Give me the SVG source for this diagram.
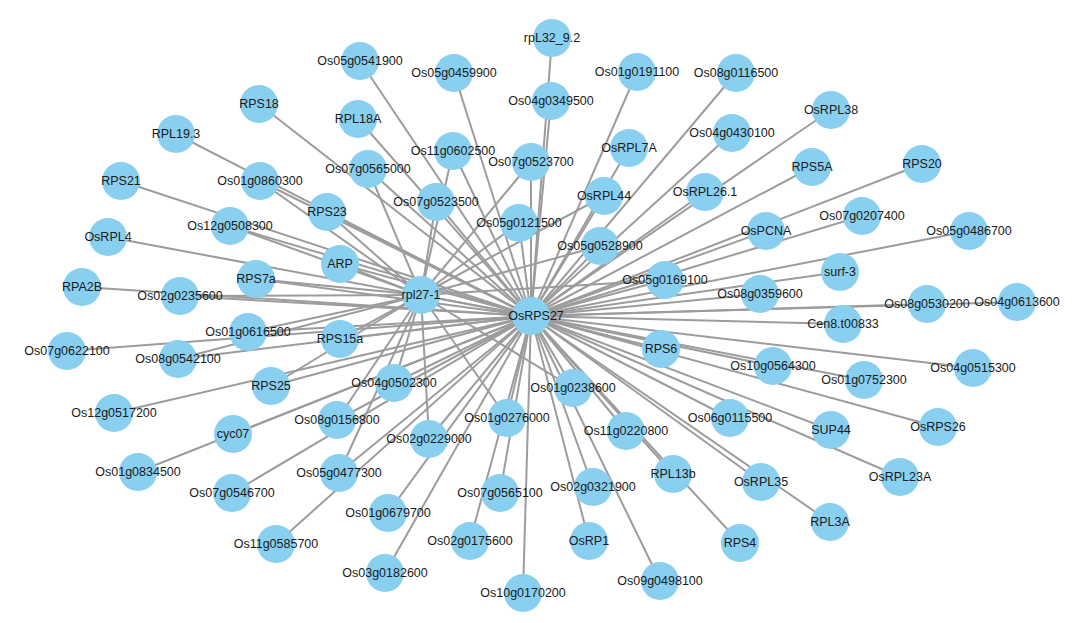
<svg xmlns="http://www.w3.org/2000/svg" width="1080" height="623" viewBox="0 0 1080 623">
<style>
.e line{stroke:#9c9c9c;stroke-width:2}
.n circle{fill:#89CFF0}
.n text{font-family:"Liberation Sans",Arial,sans-serif;font-size:12.5px;fill:#1a1a1a;text-anchor:middle}
</style>
<rect width="1080" height="623" fill="#fff"/>
<g id="connectors" class="e">
<line x1="531" y1="316" x2="421" y2="295"/>
<line x1="531" y1="316" x2="552" y2="38"/>
<line x1="531" y1="316" x2="360" y2="61"/>
<line x1="531" y1="316" x2="454" y2="73"/>
<line x1="531" y1="316" x2="637" y2="72"/>
<line x1="531" y1="316" x2="736" y2="73"/>
<line x1="531" y1="316" x2="551" y2="101"/>
<line x1="531" y1="316" x2="259" y2="104"/>
<line x1="531" y1="316" x2="831" y2="110"/>
<line x1="531" y1="316" x2="358" y2="119"/>
<line x1="531" y1="316" x2="176" y2="134"/>
<line x1="531" y1="316" x2="732" y2="133"/>
<line x1="531" y1="316" x2="629" y2="148"/>
<line x1="531" y1="316" x2="453" y2="151"/>
<line x1="531" y1="316" x2="531" y2="162"/>
<line x1="531" y1="316" x2="922" y2="164"/>
<line x1="531" y1="316" x2="812" y2="167"/>
<line x1="531" y1="316" x2="368" y2="169"/>
<line x1="531" y1="316" x2="121" y2="181"/>
<line x1="531" y1="316" x2="260" y2="181"/>
<line x1="531" y1="316" x2="705" y2="192"/>
<line x1="531" y1="316" x2="604" y2="196"/>
<line x1="531" y1="316" x2="436" y2="202"/>
<line x1="531" y1="316" x2="327" y2="212"/>
<line x1="531" y1="316" x2="862" y2="216"/>
<line x1="531" y1="316" x2="519" y2="223"/>
<line x1="531" y1="316" x2="230" y2="226"/>
<line x1="531" y1="316" x2="766" y2="231"/>
<line x1="531" y1="316" x2="969" y2="231"/>
<line x1="531" y1="316" x2="108" y2="237"/>
<line x1="531" y1="316" x2="600" y2="246"/>
<line x1="531" y1="316" x2="340" y2="264"/>
<line x1="531" y1="316" x2="840" y2="272"/>
<line x1="531" y1="316" x2="256" y2="279"/>
<line x1="531" y1="316" x2="665" y2="280"/>
<line x1="531" y1="316" x2="82" y2="287"/>
<line x1="531" y1="316" x2="760" y2="294"/>
<line x1="531" y1="316" x2="180" y2="296"/>
<line x1="531" y1="316" x2="1017" y2="302"/>
<line x1="531" y1="316" x2="927" y2="304"/>
<line x1="531" y1="316" x2="843" y2="324"/>
<line x1="531" y1="316" x2="248" y2="332"/>
<line x1="531" y1="316" x2="340" y2="339"/>
<line x1="531" y1="316" x2="661" y2="349"/>
<line x1="531" y1="316" x2="67" y2="351"/>
<line x1="531" y1="316" x2="178" y2="359"/>
<line x1="531" y1="316" x2="773" y2="366"/>
<line x1="531" y1="316" x2="973" y2="368"/>
<line x1="531" y1="316" x2="864" y2="380"/>
<line x1="531" y1="316" x2="394" y2="383"/>
<line x1="531" y1="316" x2="271" y2="386"/>
<line x1="531" y1="316" x2="573" y2="388"/>
<line x1="531" y1="316" x2="114" y2="413"/>
<line x1="531" y1="316" x2="507" y2="418"/>
<line x1="531" y1="316" x2="730" y2="418"/>
<line x1="531" y1="316" x2="337" y2="420"/>
<line x1="531" y1="316" x2="938" y2="427"/>
<line x1="531" y1="316" x2="831" y2="430"/>
<line x1="531" y1="316" x2="626" y2="431"/>
<line x1="531" y1="316" x2="233" y2="434"/>
<line x1="531" y1="316" x2="429" y2="439"/>
<line x1="531" y1="316" x2="138" y2="472"/>
<line x1="531" y1="316" x2="339" y2="473"/>
<line x1="531" y1="316" x2="673" y2="474"/>
<line x1="531" y1="316" x2="900" y2="477"/>
<line x1="531" y1="316" x2="761" y2="482"/>
<line x1="531" y1="316" x2="593" y2="487"/>
<line x1="531" y1="316" x2="232" y2="493"/>
<line x1="531" y1="316" x2="500" y2="493"/>
<line x1="531" y1="316" x2="388" y2="513"/>
<line x1="531" y1="316" x2="830" y2="522"/>
<line x1="531" y1="316" x2="470" y2="541"/>
<line x1="531" y1="316" x2="589" y2="541"/>
<line x1="531" y1="316" x2="740" y2="543"/>
<line x1="531" y1="316" x2="276" y2="544"/>
<line x1="531" y1="316" x2="385" y2="573"/>
<line x1="531" y1="316" x2="660" y2="581"/>
<line x1="531" y1="316" x2="523" y2="593"/>
<line x1="421" y1="295" x2="260" y2="181"/>
<line x1="421" y1="295" x2="327" y2="212"/>
<line x1="421" y1="295" x2="230" y2="226"/>
<line x1="421" y1="295" x2="340" y2="264"/>
<line x1="421" y1="295" x2="256" y2="279"/>
<line x1="421" y1="295" x2="180" y2="296"/>
<line x1="421" y1="295" x2="248" y2="332"/>
<line x1="421" y1="295" x2="178" y2="359"/>
<line x1="421" y1="295" x2="340" y2="339"/>
<line x1="421" y1="295" x2="271" y2="386"/>
<line x1="421" y1="295" x2="394" y2="383"/>
<line x1="421" y1="295" x2="337" y2="420"/>
<line x1="421" y1="295" x2="339" y2="473"/>
<line x1="421" y1="295" x2="429" y2="439"/>
<line x1="421" y1="295" x2="507" y2="418"/>
<line x1="421" y1="295" x2="573" y2="388"/>
<line x1="421" y1="295" x2="436" y2="202"/>
<line x1="421" y1="295" x2="453" y2="151"/>
<line x1="421" y1="295" x2="368" y2="169"/>
<line x1="421" y1="295" x2="531" y2="162"/>
<line x1="421" y1="295" x2="519" y2="223"/>
<line x1="421" y1="295" x2="604" y2="196"/>
<line x1="421" y1="295" x2="600" y2="246"/>
<line x1="421" y1="295" x2="665" y2="280"/>
</g>
<g id="n-rpL32_9.2" class="n"><circle cx="552" cy="38" r="19"/><text x="552" y="42">rpL32_9.2</text></g>
<g id="n-Os05g0541900" class="n"><circle cx="360" cy="61" r="19"/><text x="360" y="65">Os05g0541900</text></g>
<g id="n-Os05g0459900" class="n"><circle cx="454" cy="73" r="19"/><text x="454" y="77">Os05g0459900</text></g>
<g id="n-Os01g0191100" class="n"><circle cx="637" cy="72" r="19"/><text x="637" y="76">Os01g0191100</text></g>
<g id="n-Os08g0116500" class="n"><circle cx="736" cy="73" r="19"/><text x="736" y="77">Os08g0116500</text></g>
<g id="n-Os04g0349500" class="n"><circle cx="551" cy="101" r="19"/><text x="551" y="105">Os04g0349500</text></g>
<g id="n-RPS18" class="n"><circle cx="259" cy="104" r="19"/><text x="259" y="108">RPS18</text></g>
<g id="n-OsRPL38" class="n"><circle cx="831" cy="110" r="19"/><text x="831" y="114">OsRPL38</text></g>
<g id="n-RPL18A" class="n"><circle cx="358" cy="119" r="19"/><text x="358" y="123">RPL18A</text></g>
<g id="n-RPL19.3" class="n"><circle cx="176" cy="134" r="19"/><text x="176" y="138">RPL19.3</text></g>
<g id="n-Os04g0430100" class="n"><circle cx="732" cy="133" r="19"/><text x="732" y="137">Os04g0430100</text></g>
<g id="n-OsRPL7A" class="n"><circle cx="629" cy="148" r="19"/><text x="629" y="152">OsRPL7A</text></g>
<g id="n-Os11g0602500" class="n"><circle cx="453" cy="151" r="19"/><text x="453" y="155">Os11g0602500</text></g>
<g id="n-Os07g0523700" class="n"><circle cx="531" cy="162" r="19"/><text x="531" y="166">Os07g0523700</text></g>
<g id="n-RPS20" class="n"><circle cx="922" cy="164" r="19"/><text x="922" y="168">RPS20</text></g>
<g id="n-RPS5A" class="n"><circle cx="812" cy="167" r="19"/><text x="812" y="171">RPS5A</text></g>
<g id="n-Os07g0565000" class="n"><circle cx="368" cy="169" r="19"/><text x="368" y="173">Os07g0565000</text></g>
<g id="n-RPS21" class="n"><circle cx="121" cy="181" r="19"/><text x="121" y="185">RPS21</text></g>
<g id="n-Os01g0860300" class="n"><circle cx="260" cy="181" r="19"/><text x="260" y="185">Os01g0860300</text></g>
<g id="n-OsRPL26.1" class="n"><circle cx="705" cy="192" r="19"/><text x="705" y="196">OsRPL26.1</text></g>
<g id="n-OsRPL44" class="n"><circle cx="604" cy="196" r="19"/><text x="604" y="200">OsRPL44</text></g>
<g id="n-Os07g0523500" class="n"><circle cx="436" cy="202" r="19"/><text x="436" y="206">Os07g0523500</text></g>
<g id="n-RPS23" class="n"><circle cx="327" cy="212" r="19"/><text x="327" y="216">RPS23</text></g>
<g id="n-Os07g0207400" class="n"><circle cx="862" cy="216" r="19"/><text x="862" y="220">Os07g0207400</text></g>
<g id="n-Os05g0121500" class="n"><circle cx="519" cy="223" r="19"/><text x="519" y="227">Os05g0121500</text></g>
<g id="n-Os12g0508300" class="n"><circle cx="230" cy="226" r="19"/><text x="230" y="230">Os12g0508300</text></g>
<g id="n-OsPCNA" class="n"><circle cx="766" cy="231" r="19"/><text x="766" y="235">OsPCNA</text></g>
<g id="n-Os05g0486700" class="n"><circle cx="969" cy="231" r="19"/><text x="969" y="235">Os05g0486700</text></g>
<g id="n-OsRPL4" class="n"><circle cx="108" cy="237" r="19"/><text x="108" y="241">OsRPL4</text></g>
<g id="n-Os05g0528900" class="n"><circle cx="600" cy="246" r="19"/><text x="600" y="250">Os05g0528900</text></g>
<g id="n-ARP" class="n"><circle cx="340" cy="264" r="19"/><text x="340" y="268">ARP</text></g>
<g id="n-surf-3" class="n"><circle cx="840" cy="272" r="19"/><text x="840" y="276">surf-3</text></g>
<g id="n-RPS7a" class="n"><circle cx="256" cy="279" r="19"/><text x="256" y="283">RPS7a</text></g>
<g id="n-Os05g0169100" class="n"><circle cx="665" cy="280" r="19"/><text x="665" y="284">Os05g0169100</text></g>
<g id="n-RPA2B" class="n"><circle cx="82" cy="287" r="19"/><text x="82" y="291">RPA2B</text></g>
<g id="n-Os08g0359600" class="n"><circle cx="760" cy="294" r="19"/><text x="760" y="298">Os08g0359600</text></g>
<g id="n-Os02g0235600" class="n"><circle cx="180" cy="296" r="19"/><text x="180" y="300">Os02g0235600</text></g>
<g id="n-Os08g0530200" class="n"><circle cx="927" cy="304" r="19"/><text x="927" y="308">Os08g0530200</text></g>
<g id="n-Os04g0613600" class="n"><circle cx="1017" cy="302" r="19"/><text x="1017" y="306">Os04g0613600</text></g>
<g id="n-Cen8.t00833" class="n"><circle cx="843" cy="324" r="19"/><text x="843" y="328">Cen8.t00833</text></g>
<g id="n-rpl27-1" class="n"><circle cx="421" cy="295" r="19"/><text x="421" y="299">rpl27-1</text></g>
<g id="n-OsRPS27" class="n"><circle cx="531" cy="316" r="19"/><text x="536" y="320">OsRPS27</text></g>
<g id="n-Os01g0616500" class="n"><circle cx="248" cy="332" r="19"/><text x="248" y="336">Os01g0616500</text></g>
<g id="n-RPS15a" class="n"><circle cx="340" cy="339" r="19"/><text x="340" y="343">RPS15a</text></g>
<g id="n-RPS6" class="n"><circle cx="661" cy="349" r="19"/><text x="661" y="353">RPS6</text></g>
<g id="n-Os07g0622100" class="n"><circle cx="67" cy="351" r="19"/><text x="67" y="355">Os07g0622100</text></g>
<g id="n-Os08g0542100" class="n"><circle cx="178" cy="359" r="19"/><text x="178" y="363">Os08g0542100</text></g>
<g id="n-Os10g0564300" class="n"><circle cx="773" cy="366" r="19"/><text x="773" y="370">Os10g0564300</text></g>
<g id="n-Os04g0515300" class="n"><circle cx="973" cy="368" r="19"/><text x="973" y="372">Os04g0515300</text></g>
<g id="n-Os01g0752300" class="n"><circle cx="864" cy="380" r="19"/><text x="864" y="384">Os01g0752300</text></g>
<g id="n-Os04g0502300" class="n"><circle cx="394" cy="383" r="19"/><text x="394" y="387">Os04g0502300</text></g>
<g id="n-RPS25" class="n"><circle cx="271" cy="386" r="19"/><text x="271" y="390">RPS25</text></g>
<g id="n-Os01g0238600" class="n"><circle cx="573" cy="388" r="19"/><text x="573" y="392">Os01g0238600</text></g>
<g id="n-Os12g0517200" class="n"><circle cx="114" cy="413" r="19"/><text x="114" y="417">Os12g0517200</text></g>
<g id="n-Os01g0276000" class="n"><circle cx="507" cy="418" r="19"/><text x="507" y="422">Os01g0276000</text></g>
<g id="n-Os06g0115500" class="n"><circle cx="730" cy="418" r="19"/><text x="730" y="422">Os06g0115500</text></g>
<g id="n-Os08g0156800" class="n"><circle cx="337" cy="420" r="19"/><text x="337" y="424">Os08g0156800</text></g>
<g id="n-OsRPS26" class="n"><circle cx="938" cy="427" r="19"/><text x="938" y="431">OsRPS26</text></g>
<g id="n-SUP44" class="n"><circle cx="831" cy="430" r="19"/><text x="831" y="434">SUP44</text></g>
<g id="n-Os11g0220800" class="n"><circle cx="626" cy="431" r="19"/><text x="626" y="435">Os11g0220800</text></g>
<g id="n-cyc07" class="n"><circle cx="233" cy="434" r="19"/><text x="233" y="438">cyc07</text></g>
<g id="n-Os02g0229000" class="n"><circle cx="429" cy="439" r="19"/><text x="429" y="443">Os02g0229000</text></g>
<g id="n-Os01g0834500" class="n"><circle cx="138" cy="472" r="19"/><text x="138" y="476">Os01g0834500</text></g>
<g id="n-Os05g0477300" class="n"><circle cx="339" cy="473" r="19"/><text x="339" y="477">Os05g0477300</text></g>
<g id="n-RPL13b" class="n"><circle cx="673" cy="474" r="19"/><text x="673" y="478">RPL13b</text></g>
<g id="n-OsRPL23A" class="n"><circle cx="900" cy="477" r="19"/><text x="900" y="481">OsRPL23A</text></g>
<g id="n-OsRPL35" class="n"><circle cx="761" cy="482" r="19"/><text x="761" y="486">OsRPL35</text></g>
<g id="n-Os02g0321900" class="n"><circle cx="593" cy="487" r="19"/><text x="593" y="491">Os02g0321900</text></g>
<g id="n-Os07g0546700" class="n"><circle cx="232" cy="493" r="19"/><text x="232" y="497">Os07g0546700</text></g>
<g id="n-Os07g0565100" class="n"><circle cx="500" cy="493" r="19"/><text x="500" y="497">Os07g0565100</text></g>
<g id="n-Os01g0679700" class="n"><circle cx="388" cy="513" r="19"/><text x="388" y="517">Os01g0679700</text></g>
<g id="n-RPL3A" class="n"><circle cx="830" cy="522" r="19"/><text x="830" y="526">RPL3A</text></g>
<g id="n-Os02g0175600" class="n"><circle cx="470" cy="541" r="19"/><text x="470" y="545">Os02g0175600</text></g>
<g id="n-OsRP1" class="n"><circle cx="589" cy="541" r="19"/><text x="589" y="545">OsRP1</text></g>
<g id="n-RPS4" class="n"><circle cx="740" cy="543" r="19"/><text x="740" y="547">RPS4</text></g>
<g id="n-Os11g0585700" class="n"><circle cx="276" cy="544" r="19"/><text x="276" y="548">Os11g0585700</text></g>
<g id="n-Os03g0182600" class="n"><circle cx="385" cy="573" r="19"/><text x="385" y="577">Os03g0182600</text></g>
<g id="n-Os09g0498100" class="n"><circle cx="660" cy="581" r="19"/><text x="660" y="585">Os09g0498100</text></g>
<g id="n-Os10g0170200" class="n"><circle cx="523" cy="593" r="19"/><text x="523" y="597">Os10g0170200</text></g>
</svg>
